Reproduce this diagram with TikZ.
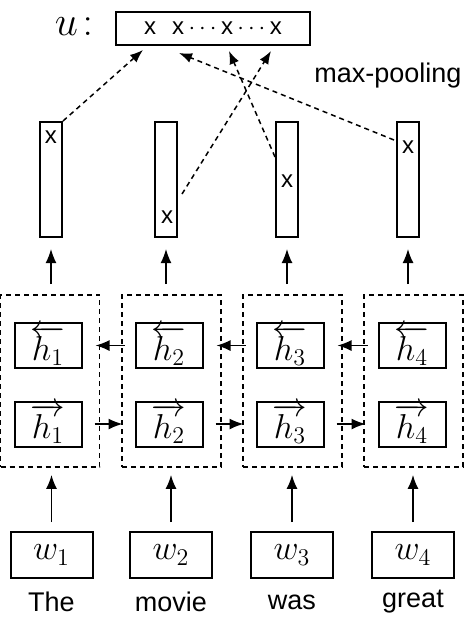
\documentclass[tikz,border=0pt]{standalone}
\usepackage{fontspec}
\setmainfont{Liberation Sans}
\usetikzlibrary{arrows.meta}

\begin{document}
\begin{tikzpicture}[x=0.5pt,y=-0.5pt,
  box/.style={draw,line width=1pt,inner sep=0pt},
  vecbox/.style={box,minimum width=11pt,minimum height=57.5pt},
  cellbox/.style={box,minimum width=33.5pt,minimum height=22.5pt,font=\fontsize{17.28}{20}\selectfont},
  wordbox/.style={box,minimum width=41pt,minimum height=23pt,font=\fontsize{17.28}{20}\selectfont},
  statebox/.style={draw,line width=0.9pt,dash pattern=on 2.5pt off 2pt,minimum width=49.5pt,minimum height=86pt},
  arr/.style={line width=0.75pt,-{Latex[length=7pt,width=5.5pt]}},
  pool/.style={line width=0.75pt,dash pattern=on 2.5pt off 2pt,-{Latex[length=6.5pt,width=5pt]}},
  entry/.style={font=\fontsize{12}{14}\selectfont},
  txt/.style={font=\fontsize{13.5}{16}\selectfont}]
\useasboundingbox (0,0) rectangle (465,622);

% pooled vector
\node[box,minimum width=97pt,minimum height=16.5pt,entry] (u) at (213,28.5) {x\hspace{8pt}x\hspace{2.2pt}$\cdots$\hspace{2.2pt}x\hspace{2.2pt}$\cdots$\hspace{2.2pt}x};
\node[font=\fontsize{20}{24}\selectfont] (ulab) at (74,27) {$u\!:$};
\node[txt] (pooling) at (388,76) {max-pooling};

% hidden vectors with their max entries
\foreach \i/\x in {1/51,2/166,3/287,4/408}
  \node[vecbox] (v\i) at (\x,179.5) {};
\node[entry] (m1) at (51,137) {x};
\node[entry] (m2) at (167,217) {x};
\node[entry] (m3) at (287,181) {x};
\node[entry] (m4) at (408,147) {x};

% biLSTM states
\foreach \i/\x in {1/50,2/171.5,3/292.5,4/413.5}
  \node[statebox] (s\i) at (\x,381) {};
\foreach \i/\x in {1/48,2/169,3/290,4/412} {
  \node[cellbox] (b\i) at (\x,345.5) {$\overleftarrow{h_\i}$};
  \node[cellbox] (f\i) at (\x,424) {$\overrightarrow{h_\i}$};
}

% words
\foreach \i/\x/\word in {1/51.5/The,2/171/movie,3/292/was,4/413/great} {
  \node[wordbox] (w\i) at (\x,555) {$w_\i$};
  \node[txt] (t\i) at (\x,602) {\word};
}

% connectors
\foreach \i in {1,...,4} {
  \draw[arr,shorten <=4.5pt,shorten >=3.5pt] (w\i.north) -- (w\i.north |- s\i.south);
  \draw[arr,shorten <=5pt,shorten >=5.5pt] (s\i.north -| v\i.south) -- (v\i.south);
}
\foreach \i/\j in {1/2,2/3,3/4} {
  \draw[arr,shorten <=6pt,shorten >=6pt] (f\i) -- (f\j);
  \draw[arr,shorten <=5pt,shorten >=6.5pt] (b\j) -- (b\i);
}

% max-pooling
\coordinate (p1) at (143,50);
\coordinate (p2) at (271,51);
\coordinate (p3) at (229,51);
\coordinate (p4) at (179,53);
\draw[pool] (v1.north east) -- (p1);
\draw[pool] ([xshift=2pt,yshift=-7.25pt]v2.east) -- (p2);
\draw[pool] ([yshift=11.25pt]v3.west) -- (p3);
\draw[pool] ([xshift=-1pt,yshift=19.75pt]v4.west) -- (p4);
\end{tikzpicture}
\end{document}
